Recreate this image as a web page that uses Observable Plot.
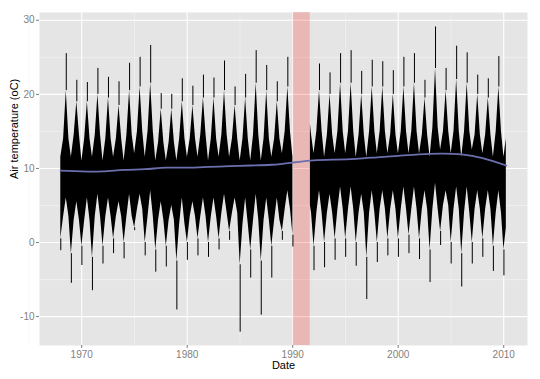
<!DOCTYPE html>
<html>
<head>
<meta charset="utf-8">
<script src="https://cdn.jsdelivr.net/npm/d3@7"></script>
<script src="https://cdn.jsdelivr.net/npm/@observablehq/plot@0.6"></script>
<style>
  html, body { margin: 0; padding: 0; background: #ffffff; }
  #chart { width: 540px; height: 379px; }
</style>
</head>
<body>
<div id="chart"></div>
<script>
// ---- data ----
const years = d3.range(1968, 2011); // 1968 .. 2010

// highest summer spike of each year (°C)
const summerMax = [25.5, 21.9, 21.6, 23.5, 22.3, 21.7, 24.2, 25.0, 26.6, 20.1,
                   20.0, 22.1, 21.1, 22.6, 22.2, 24.5, 21.0, 22.7, 25.9, 23.9,
                   21.7, 25.0, null, null, 24.1, 22.9, 25.5, 25.9, 23.1, 24.6,
                   24.4, 23.2, 25.0, 25.5, 21.9, 29.1, 23.5, 26.5, 25.6, 22.6,
                   22.1, 25.1, null];
// top of the dense summer mass
const summerTop = [20.5, 19.0, 19.0, 20.0, 19.5, 18.5, 20.5, 21.0, 21.5, 18.0,
                   18.0, 19.0, 18.5, 19.5, 19.5, 20.5, 18.5, 19.5, 21.5, 20.5,
                   19.0, 21.0, null, null, 20.5, 20.0, 21.5, 21.5, 20.0, 21.0,
                   21.0, 20.0, 21.0, 21.5, 19.5, 23.5, 20.5, 22.0, 21.5, 20.0,
                   19.5, 21.0, null];
// lowest edge of the dense summer mass
const summerBottom = [6.0, 5.5, 6.0, 6.5, 6.0, 5.5, 6.5, 6.5, 7.0, 5.5,
                      5.0, 6.0, 5.5, 6.0, 6.0, 6.5, 6.0, 6.0, 6.5, 6.0,
                      6.0, 7.0, null, null, 7.0, 6.5, 7.5, 7.5, 6.5, 7.0,
                      7.0, 7.0, 7.5, 7.5, 7.0, 8.0, 7.0, 7.5, 7.5, 7.0,
                      7.0, 7.0, null];
// spring / autumn band of the dense mass
const shoulderHigh = [14.0, 14.5, 14.0, 14.5, 14.0, 14.0, 14.5, 15.0, 15.0, 13.5,
                      13.5, 14.0, 14.0, 14.5, 14.0, 14.5, 14.0, 14.0, 14.5, 14.0,
                      14.0, 15.0, null, 14.5, 15.0, 14.5, 15.0, 15.0, 14.5, 15.0,
                      15.0, 14.5, 15.0, 15.0, 14.5, 15.5, 15.0, 15.0, 15.0, 14.5,
                      14.5, 15.0, null];
const shoulderLow = [3.5, 3.0, 3.0, 3.5, 3.5, 3.5, 3.5, 4.5, 3.5, 3.0,
                     3.0, 2.5, 3.5, 3.5, 3.5, 4.0, 4.0, 2.5, 3.0, 3.0,
                     3.0, 4.5, null, 4.0, 4.0, 4.0, 4.5, 4.5, 4.0, 4.0,
                     4.5, 4.5, 4.5, 4.5, 4.5, 4.5, 5.0, 4.5, 4.0, 4.5,
                     4.5, 4.0, null];
// lowest winter spike of each year (°C)
const winterMin = [-1.1, -5.5, -3.1, -6.5, -2.9, -1.5, -2.2, 1.6, -1.8, -4.0,
                   -3.3, -9.1, -2.4, -1.8, -2.0, -1.0, 0.3, -12.1, -4.8, -9.8,
                   -4.8, 0.3, -0.6, null, -3.8, -3.4, -2.4, -2.0, -3.2, -7.7,
                   -2.7, -1.8, -2.0, -1.5, -2.3, -5.4, -0.4, -2.9, -6.0, -2.9,
                   -2.0, -3.9, -4.5];
// bottom of the dense winter mass
const winterBottom = [0.5, -1.5, -0.5, -2.0, -0.5, 0.5, 0.0, 2.0, 0.0, -1.0,
                      -0.5, -2.5, 0.0, 0.5, 0.0, 0.5, 1.5, -3.0, -1.0, -2.5,
                      -0.5, 1.5, 1.0, null, -0.5, 0.0, 0.5, 0.5, 0.0, -2.0,
                      0.0, 0.5, 0.5, 1.0, 0.5, -1.0, 1.5, 0.0, -1.5, 0.0,
                      0.5, -0.5, -1.0];
// upper edge of the dense winter mass
const winterTop = [11.5, 11.5, 11.0, 11.5, 11.0, 11.5, 11.0, 12.0, 11.5, 11.0,
                   11.0, 11.0, 11.5, 11.5, 11.0, 11.5, 11.5, 11.0, 11.0, 11.0,
                   11.5, 12.0, 11.5, null, 12.0, 11.5, 12.0, 12.0, 11.5, 11.5,
                   12.0, 12.0, 12.0, 12.0, 12.0, 11.5, 12.5, 12.0, 11.5, 12.5,
                   12.0, 11.5, 11.5];

// where the record resumes after the gap, and where it ends
const resumeDate = "1991-09-05", resumeLow = 5.0, resumeHigh = 16.0;
const endDate = "2010-04-01", endLow = 2.0, endHigh = 14.0;

// highlighted (missing) period
const gapStart = "1990-01-20", gapEnd = "1991-09-01";

// smoothed trend (loess)
const smoothYear = [1968, 1970, 1972, 1974, 1976, 1978, 1980, 1982, 1984, 1986, 1988,
                    1990, 1992, 1994, 1996, 1998, 2000, 2002, 2004, 2006, 2008, 2010.25];
const smoothTemp = [9.7, 9.6, 9.6, 9.8, 9.9, 10.1, 10.1, 10.2, 10.3, 10.4, 10.5,
                    10.8, 11.1, 11.2, 11.3, 11.5, 11.7, 11.9, 12.0, 11.9, 11.4, 10.4];

const xTickYears = [1970, 1980, 1990, 2000, 2010];
const xMinorYears = [1965, 1975, 1985, 1995, 2005];
const yTicks = [-10, 0, 10, 20, 30];
const yMinor = [-5, 5, 15, 25];

// ---- build tables ----
const utc = (y, m, d) => new Date(Date.UTC(y, m, d));
const iso = s => new Date(s + "T00:00:00Z");
const fracYear = f => {
  const y = Math.floor(f);
  const a = Date.UTC(y, 0, 1), b = Date.UTC(y + 1, 0, 1);
  return new Date(a + (f - y) * (b - a));
};

const gs = iso(gapStart), ge = iso(gapEnd), endT = iso(endDate);
let rows = [];
const spikes = [];
years.forEach((y, i) => {
  rows.push({date: utc(y, 0, 8), low: winterBottom[i], high: winterTop[i]});
  rows.push({date: utc(y, 3, 15), low: shoulderLow[i], high: shoulderHigh[i]});
  rows.push({date: utc(y, 6, 16), low: summerBottom[i], high: summerTop[i]});
  rows.push({date: utc(y, 9, 15), low: shoulderLow[i], high: shoulderHigh[i]});
  if (winterMin[i] != null) spikes.push({date: utc(y, 0, 8), a: winterMin[i], b: winterBottom[i]});
  if (summerMax[i] != null) spikes.push({date: utc(y, 6, 16), a: summerTop[i], b: summerMax[i]});
});
rows.push({date: iso(resumeDate), low: resumeLow, high: resumeHigh});
rows.push({date: endT, low: endLow, high: endHigh});
rows = rows
  .filter(r => r.date <= endT)
  .map(r => (r.date > gs && r.date < ge) ? {date: r.date, low: null, high: null} : r)
  .sort((p, q) => p.date - q.date);

const smooth = smoothYear.map((y, i) => ({date: fracYear(y), temp: smoothTemp[i]}));

const chart = Plot.plot({
  width: 540,
  height: 379,
  marginLeft: 39,
  marginRight: 13,
  marginTop: 12,
  marginBottom: 34,
  style: {fontFamily: "'Liberation Sans', Arial, sans-serif", background: "#ffffff"},
  x: {type: "utc", domain: [utc(1966, 0, 1), utc(2012, 3, 3)]},
  y: {domain: [-13.9, 31.05]},
  marks: [
    Plot.frame({fill: "#E5E5E5", stroke: null}),
    Plot.ruleX(xMinorYears.map(y => utc(y, 0, 1)), {stroke: "#F2F2F2", strokeWidth: 0.7}),
    Plot.ruleY(yMinor, {stroke: "#F2F2F2", strokeWidth: 0.7}),
    Plot.ruleX(xTickYears.map(y => utc(y, 0, 1)), {stroke: "#ffffff", strokeWidth: 1.1}),
    Plot.ruleY(yTicks, {stroke: "#ffffff", strokeWidth: 1.1}),
    Plot.rect([{x1: gs, x2: ge}], {x1: "x1", x2: "x2", fill: "red", fillOpacity: 0.2}),
    Plot.areaY(rows, {x: "date", y1: "low", y2: "high", fill: "#000000", curve: "linear"}),
    Plot.ruleX(spikes, {x: "date", y1: "a", y2: "b", stroke: "#000000", strokeWidth: 1}),
    Plot.line(smooth, {x: "date", y: "temp", stroke: "#6B6FAD", strokeWidth: 1.8, curve: "natural"}),
    Plot.axisX(xTickYears.map(y => utc(y, 0, 1)), {
      tickSize: 3, tickPadding: 2, color: "#7F7F7F", fontSize: 10,
      tickFormat: d => String(d.getUTCFullYear()), label: null
    }),
    Plot.axisY(yTicks, {
      tickSize: 3, tickPadding: 2, color: "#7F7F7F", fontSize: 10,
      tickFormat: d => String(d), label: null
    }),
    Plot.text(["Date"], {frameAnchor: "bottom", dy: 23, fontSize: 11, fill: "#000000"}),
    Plot.text(["Air temperature (oC)"], {frameAnchor: "left", dx: -25, rotate: -90, fontSize: 11, fill: "#000000"})
  ]
});
document.getElementById("chart").appendChild(chart);
</script>
</body>
</html>
